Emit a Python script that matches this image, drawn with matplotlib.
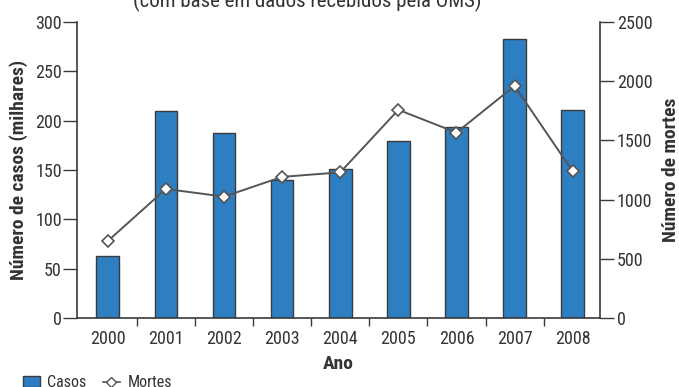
import matplotlib
matplotlib.use("Agg")
import matplotlib.pyplot as plt
from matplotlib.lines import Line2D
from matplotlib.patches import Patch

anos = ['2000', '2001', '2002', '2003', '2004', '2005', '2006', '2007', '2008']
casos = [63, 210, 187, 140, 151, 179, 194, 283, 211]           # milhares
mortes = [650, 1090, 1025, 1192, 1230, 1758, 1566, 1960, 1238]

plt.rcParams['font.family'] = ['Roboto Condensed', 'Liberation Sans Narrow', 'Roboto', 'DejaVu Sans']

blue = '#2e7fc2'
dark = '#3a3a3a'
txt = '#333333'

fig = plt.figure(figsize=(6.79, 3.87), dpi=100)
axis = fig.add_axes([0.1134, 0.1783, 0.7703, 0.7649])
axis2 = axis.twinx()

x = list(range(len(anos)))
axis.bar(x, casos, width=0.39, color=blue, edgecolor=dark, linewidth=1.0, zorder=2)
axis2.plot(x, mortes, color='#555555', linewidth=1.4,
           marker='D', markersize=6.5, markerfacecolor='white',
           markeredgecolor='#555555', markeredgewidth=1.2, zorder=3)

axis.set_xlim(-0.53, 8.47)
axis.set_ylim(0, 300)
axis2.set_ylim(0, 2500)
axis.set_yticks(range(0, 301, 50))
axis2.set_yticks(range(0, 2501, 500))

axis.set_xticks(x)
axis.set_xticklabels(anos)
axis.set_xticks([i + 0.5 for i in x[:-1]], minor=True)
axis.tick_params(axis='x', which='major', length=0, pad=9, labelsize=13, labelcolor=txt)
axis.tick_params(axis='x', which='minor', length=6, width=1, color=dark)
axis.tick_params(axis='y', length=10, width=1, color=dark, pad=1, labelsize=13, labelcolor=txt)
axis2.tick_params(axis='y', length=10, width=1, color=dark, pad=2, labelsize=13, labelcolor=txt)

for sp in ['top', 'right']:
    axis.spines[sp].set_visible(False)
for sp in ['top', 'left', 'bottom']:
    axis2.spines[sp].set_visible(False)
for sp in [axis.spines['left'], axis.spines['bottom'], axis2.spines['right']]:
    sp.set_color(dark)
    sp.set_linewidth(1.2)

axis.set_ylabel('Número de casos (milhares)', fontsize=14, fontweight='bold', color=txt, labelpad=5)
axis2.set_ylabel('Número de mortes', fontsize=14, fontweight='bold', color=txt, labelpad=7)
axis.set_xlabel('Ano', fontsize=14, fontweight='bold', color=txt, labelpad=5)

fig.text(0.452, 0.982, '(com base em dados recebidos pela OMS)', ha='center',
         va='baseline', fontsize=15, color=txt)

handles = [Patch(facecolor=blue, edgecolor=dark, linewidth=1.0),
           Line2D([], [], color='#555555', linewidth=1.2, marker='D', markersize=5,
                  markerfacecolor='white', markeredgecolor='#555555')]
fig.legend(handles, ['Casos', 'Mortes'], loc='center left', bbox_to_anchor=(0.012, 0.011),
           ncol=2, frameon=False, fontsize=11.5, handlelength=1.1, handletextpad=0.45,
           columnspacing=1.0, labelcolor=txt)

fig.savefig('out.png', dpi=100)
